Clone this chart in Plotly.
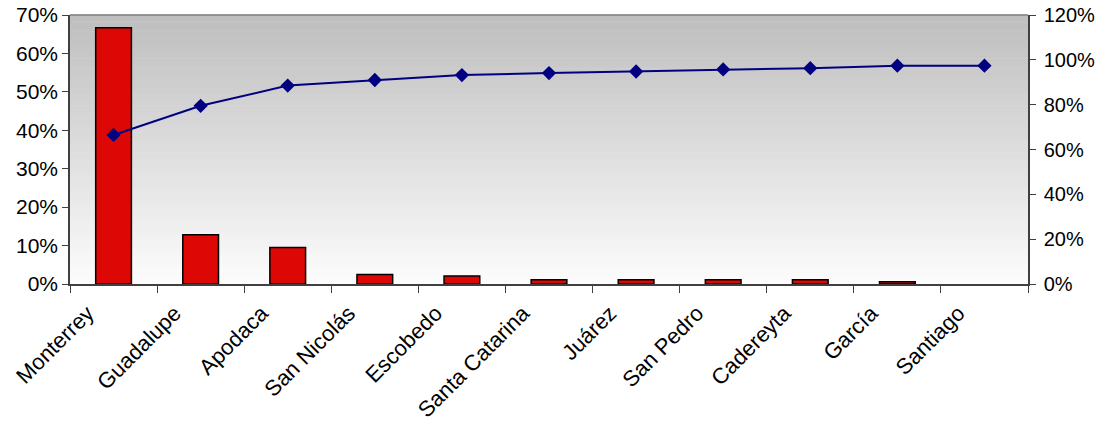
import plotly.graph_objects as go

categories = ["Monterrey", "Guadalupe", "Apodaca", "San Nicolás", "Escobedo",
              "Santa Catarina", "Juárez", "San Pedro", "Cadereyta", "García", "Santiago"]
share = [0.667, 0.128, 0.095, 0.025, 0.021, 0.011, 0.011, 0.011, 0.011, 0.006, 0.0]
cumulative = [0.665, 0.795, 0.885, 0.910, 0.932, 0.941, 0.948, 0.957, 0.963, 0.974, 0.974]
left_ticks = [0, 0.1, 0.2, 0.3, 0.4, 0.5, 0.6, 0.7]
right_ticks = [0, 0.2, 0.4, 0.6, 0.8, 1.0, 1.2]

FONT = "Liberation Sans, Arial, sans-serif"

# no outline on an empty (zero) bar
bar_line_widths = [1.5 if v > 0 else 0 for v in share]

fig = go.Figure()
fig.add_trace(go.Bar(
    x=categories, y=share, width=0.41,
    marker=dict(color="#DD0806", line=dict(color="black", width=bar_line_widths)),
    showlegend=False, hoverinfo="x+y",
))
fig.add_trace(go.Scatter(
    x=categories, y=cumulative, yaxis="y2", mode="lines+markers",
    line=dict(color="#000080", width=2),
    marker=dict(symbol="diamond", size=11, color="#000080"),
    showlegend=False,
))

# vertical gradient background (gray top -> near white bottom)
n = 80
top = (190, 190, 190)
bot = (252, 252, 252)
shapes = []
for i in range(n):
    t = i / (n - 1)
    c = tuple(round(top[k] + (bot[k] - top[k]) * t) for k in range(3))
    shapes.append(dict(type="rect", xref="x domain", yref="y domain",
                       x0=0, x1=1, y0=1 - (i + 1) / n, y1=1 - i / n + 0.002,
                       fillcolor=f"rgb{c}", line=dict(width=0), layer="below"))
shapes.append(dict(type="line", xref="x domain", yref="y domain",
                   x0=0, x1=1, y0=1, y1=1, line=dict(color="#808080", width=1.5)))

fig.update_layout(
    width=1102, height=424,
    margin=dict(l=70, r=74, t=15, b=140),
    paper_bgcolor="white", plot_bgcolor="rgba(0,0,0,0)",
    font=dict(family=FONT, size=21, color="black"),
    shapes=shapes,
    xaxis=dict(
        type="category", range=[-0.5, len(categories) - 0.5],
        tickson="boundaries", ticks="outside", ticklen=7,
        tickcolor="#404040", tickwidth=1.2, showline=True, linecolor="#404040",
        linewidth=1.5, tickangle=-45, showgrid=False, zeroline=False,
        automargin=False, ticklabeloverflow="allow",
        ticklabelshift=-26, ticklabelstandoff=6,
        tickfont=dict(family=FONT, size=22),
    ),
    yaxis=dict(
        range=[0, 0.7], tickvals=left_ticks, tickformat=".0%",
        ticks="outside", ticklen=6, tickcolor="#404040", showline=True,
        linecolor="#404040", linewidth=1.5, showgrid=False, zeroline=False,
        automargin=False, ticklabeloverflow="allow",
        tickfont=dict(family=FONT, size=21),
    ),
    yaxis2=dict(
        range=[0, 1.2], tickvals=right_ticks, tickformat=".0%",
        overlaying="y", side="right", ticks="outside", ticklen=6,
        tickcolor="#404040", showline=True, linecolor="#404040", linewidth=1.5,
        showgrid=False, zeroline=False, automargin=False,
        ticklabeloverflow="allow", ticklabelstandoff=4,
        tickfont=dict(family=FONT, size=20),
    ),
)

# remove the browser's default 8px body margin so the figure sits at (0, 0)
fig.write_html("out.html",
               config={"displayModeBar": False},
               post_script="document.body.style.margin='0';document.body.style.overflow='hidden';")
